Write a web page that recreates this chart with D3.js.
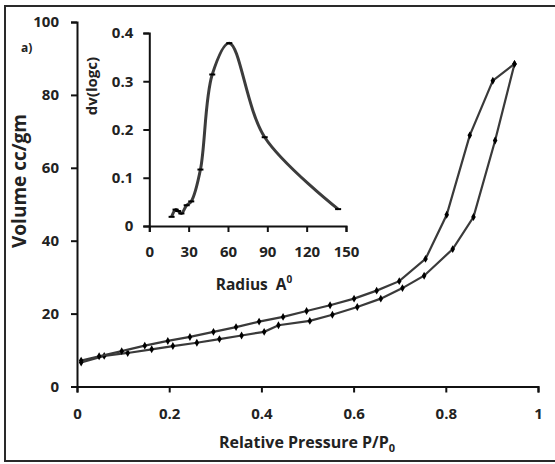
<!DOCTYPE html>
<html>
<head>
<meta charset="utf-8">
<script src="https://cdn.jsdelivr.net/npm/d3@7"></script>
<style>
  html, body { margin: 0; padding: 0; background: #fff; }
  svg { display: block; font-family: "Open Sans", "DejaVu Sans", sans-serif; font-weight: bold; }
</style>
</head>
<body>
<svg id="chart"></svg>
<script>
(function () {
    'use strict';

    // isotherm: relative pressure vs adsorbed volume
    const adsP = [0.009, 0.059, 0.11, 0.162, 0.208, 0.26, 0.309, 0.357, 0.406, 0.437, 0.505, 0.554, 0.608, 0.659, 0.706, 0.753, 0.815, 0.86, 0.907, 0.949];
    const adsV = [6.6, 8.4, 9.2, 10.2, 11.1, 12.0, 13.0, 14.0, 15.0, 16.8, 18.0, 19.7, 21.8, 24.1, 27.0, 30.4, 37.7, 46.5, 67.5, 88.5];
    const desP = [0.949, 0.902, 0.852, 0.802, 0.756, 0.699, 0.65, 0.601, 0.549, 0.498, 0.447, 0.395, 0.345, 0.296, 0.245, 0.197, 0.147, 0.097, 0.048, 0.009];
    const desV = [88.5, 83.9, 68.9, 47.1, 35.0, 28.9, 26.3, 24.1, 22.3, 20.7, 19.1, 17.8, 16.3, 15.0, 13.6, 12.5, 11.2, 9.7, 8.3, 7.1];

    // inset: pore size distribution
    const radius = [17, 20, 22, 24.5, 28.5, 32, 39, 48, 61, 88, 144];
    const dvlogc = [0.019, 0.034, 0.031, 0.026, 0.043, 0.051, 0.117, 0.314, 0.379, 0.184, 0.035];

    const xTicks = [0, 0.2, 0.4, 0.6, 0.8, 1];
    const xTickLabels = ['0', '0.2', '0.4', '0.6', '0.8', '1'];
    const yTicks = [0, 20, 40, 60, 80, 100];
    const ixTicks = [0, 30, 60, 90, 120, 150];
    const iyTicks = [0, 0.1, 0.2, 0.3, 0.4];

    const width = 555;
    const height = 464;

    const x = d3.scaleLinear().domain([0, 1]).range([77, 538]);
    const y = d3.scaleLinear().domain([0, 100]).range([386.5, 22]);
    const ix = d3.scaleLinear().domain([0, 150]).range([149.3, 346]);
    const iy = d3.scaleLinear().domain([0, 0.4]).range([226, 33]);

    const svg = d3.select('#chart')
        .attr('width', width)
        .attr('height', height)
        .attr('viewBox', [0, 0, width, height]);

    // outer frame (right edge is cut off in the picture)
    svg.append('rect')
        .attr('x', 5).attr('y', 6)
        .attr('width', 570).attr('height', 455)
        .attr('fill', 'none')
        .attr('stroke', '#2a2a2a')
        .attr('stroke-width', 2);

    const styleAxis = (g, size) => {
        g.select('.domain').attr('stroke', '#111').attr('stroke-width', 2);
        g.selectAll('.tick line').attr('stroke', '#111').attr('stroke-width', 2);
        g.selectAll('.tick text')
            .attr('fill', '#222')
            .style('font-size', size + 'px')
            .style('font-family', '"Open Sans", sans-serif')
            .style('font-weight', 'bold');
    };

    // main axes
    const xAxis = svg.append('g')
        .attr('transform', `translate(0,${y(0)})`)
        .call(d3.axisBottom(x).tickValues(xTicks).tickFormat((d, i) => xTickLabels[i]).tickSize(6).tickSizeOuter(6).tickPadding(16));
    styleAxis(xAxis, 15);

    const yAxis = svg.append('g')
        .attr('transform', `translate(${x(0)},0)`)
        .call(d3.axisLeft(y).tickValues(yTicks).tickFormat(d3.format('d')).tickSize(6).tickSizeOuter(6).tickPadding(12));
    styleAxis(yAxis, 15);

    // isotherm lines
    const line = d3.line().x(d => x(d[0])).y(d => y(d[1]));
    const ads = adsP.map((p, i) => [p, adsV[i]]);
    const des = desP.map((p, i) => [p, desV[i]]);

    const plots = svg.append('g');
    [ads, des].forEach(s => {
        plots.append('path')
            .attr('d', line(s))
            .attr('fill', 'none')
            .attr('stroke', '#3a3a3a')
            .attr('stroke-width', 2.2);
        plots.append('g').selectAll('path')
            .data(s)
            .join('path')
            .attr('transform', d => `translate(${x(d[0])},${y(d[1])})`)
            .attr('d', d3.symbol(d3.symbolDiamond, 18))
            .attr('fill', '#000');
    });

    // inset axes
    const ixAxis = svg.append('g')
        .attr('transform', `translate(0,${iy(0)})`)
        .call(d3.axisBottom(ix).tickValues(ixTicks).tickSize(6).tickSizeOuter(6).tickPadding(14));
    styleAxis(ixAxis, 15);

    const iyAxis = svg.append('g')
        .attr('transform', `translate(${ix(0)},0)`)
        .call(d3.axisLeft(iy).tickValues(iyTicks).tickFormat(d => d === 0 ? '0' : d3.format('.1f')(d)).tickSize(6).tickSizeOuter(6).tickPadding(10));
    styleAxis(iyAxis, 15);

    const psd = radius.map((r, i) => [r, dvlogc[i]]);
    const iline = d3.line().curve(d3.curveCatmullRom.alpha(0.5)).x(d => ix(d[0])).y(d => iy(d[1]));
    svg.append('path')
        .attr('d', iline(psd))
        .attr('fill', 'none')
        .attr('stroke', '#3c3c3c')
        .attr('stroke-width', 3);
    svg.append('g').selectAll('line')
        .data(psd)
        .join('line')
        .attr('x1', d => ix(d[0]) - 3).attr('x2', d => ix(d[0]) + 3)
        .attr('y1', d => iy(d[1])).attr('y2', d => iy(d[1]))
        .attr('stroke', '#000')
        .attr('stroke-width', 2);

    // labels
    const label = (txt, size) => svg.append('text')
        .attr('fill', '#222')
        .style('font-size', size + 'px')
        .text(txt);

    label('Volume cc/gm', 19)
        .attr('text-anchor', 'middle')
        .attr('transform', 'translate(26,181) rotate(-90)');

    const xl = svg.append('text')
        .attr('fill', '#222')
        .attr('text-anchor', 'middle')
        .attr('x', 307).attr('y', 448)
        .style('font-size', '16px');
    xl.append('tspan').text('Relative Pressure P/P');
    xl.append('tspan').attr('dy', 4).style('font-size', '11px').text('0');

    const rl = svg.append('text')
        .attr('fill', '#222')
        .attr('text-anchor', 'middle')
        .attr('x', 254).attr('y', 290)
        .style('font-size', '15.5px')
        .style('white-space', 'pre');
    rl.append('tspan').text('Radius  A');
    rl.append('tspan').attr('dy', -7).style('font-size', '10px').text('0');

    label('dv(logc)', 15)
        .attr('text-anchor', 'middle')
        .attr('transform', 'translate(97,86) rotate(-90)');

    label('a)', 12)
        .attr('x', 21).attr('y', 52);
})();
</script>
</body>
</html>
